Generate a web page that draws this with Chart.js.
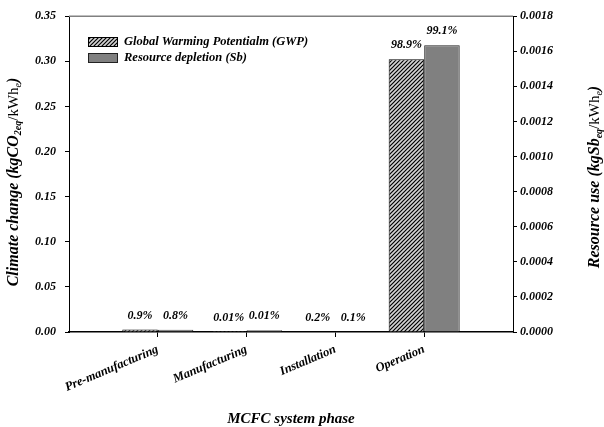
<!DOCTYPE html>
<html>
<head>
<meta charset="utf-8">
<script src="https://cdn.jsdelivr.net/npm/chart.js@4.4.1/dist/chart.umd.min.js"></script>
<style>
  html, body { margin: 0; padding: 0; background: #fff; }
  #wrap { width: 604px; height: 427px; }
</style>
</head>
<body>
<div id="wrap"><canvas id="c" width="604" height="427"></canvas></div>
<script>
// System phases (blank slots at both ends keep the phases evenly spread)
const phases = ['', 'Pre-manufacturing', 'Manufacturing', 'Installation', 'Operation', ''];
// Climate change, kgCO2eq/kWhe
const gwpValues = [null, 0.00275, 0.00003, 0.0006, 0.3023, null];
// Resource use, kgSbeq/kWhe
const sbValues = [null, 0.0000132, 0.00001, 0.0000016, 0.001634, null];
// Share of each phase in the total
const gwpShares = ['', '0.9%', '0.01%', '0.2%', '98.9%', ''];
const sbShares = ['', '0.8%', '0.01%', '0.1%', '99.1%', ''];
// Axis ticks
const leftTicks = [0, 0.05, 0.10, 0.15, 0.20, 0.25, 0.30, 0.35];
const rightTicks = [0, 0.0002, 0.0004, 0.0006, 0.0008, 0.0010, 0.0012, 0.0014, 0.0016, 0.0018];

const SERIF = '"Liberation Serif", "Times New Roman", serif';
const BI = (s) => 'italic bold ' + s + 'px ' + SERIF;

function hatch() {
  const p = document.createElement('canvas');
  p.width = 4; p.height = 4;
  const g = p.getContext('2d');
  g.fillStyle = '#d4d4d4';
  g.fillRect(0, 0, 4, 4);
  g.strokeStyle = '#000';
  g.lineWidth = 1.2;
  g.beginPath();
  g.moveTo(-1, 5); g.lineTo(5, -1);
  g.moveTo(-3, 3); g.lineTo(3, -3);
  g.moveTo(1, 7); g.lineTo(7, 1);
  g.stroke();
  return g.createPattern(p, 'repeat');
}
const hatchFill = hatch();

// Draw a run of text pieces (with subscripts) centred at (cx, cy)
function drawRuns(ctx, runs, cx, cy) {
  let total = 0;
  runs.forEach(r => { ctx.font = r.font; r.w = ctx.measureText(r.t).width; total += r.w; });
  let x = cx - total / 2;
  ctx.textBaseline = 'alphabetic';
  ctx.textAlign = 'left';
  runs.forEach(r => {
    ctx.font = r.font;
    ctx.fillText(r.t, x, cy + (r.dy || 0));
    x += r.w;
  });
}

const decorations = {
  id: 'decorations',
  afterDatasetsDraw(chart) {
    const ctx = chart.ctx;
    const area = chart.chartArea;
    ctx.save();
    // top frame line
    ctx.strokeStyle = '#808080';
    ctx.lineWidth = 1.5;
    ctx.beginPath();
    ctx.moveTo(area.left, area.top);
    ctx.lineTo(area.right, area.top);
    ctx.stroke();

    // share labels above each bar
    ctx.fillStyle = '#000';
    ctx.font = BI(12);
    ctx.textAlign = 'center';
    ctx.textBaseline = 'middle';
    [gwpShares, sbShares].forEach((labels, di) => {
      const meta = chart.getDatasetMeta(di);
      meta.data.forEach((el, i) => {
        if (!labels[i]) return;
        ctx.fillText(labels[i], el.x, el.y - 14);
      });
    });

    // legend inside the plot
    const lx = 88, sw = 29, sh = 9;
    const items = [
      { fill: hatchFill, stroke: '#000', y: 37 },
      { fill: '#808080', stroke: '#222', y: 53 }
    ];
    items.forEach((it, i) => {
      ctx.fillStyle = it.fill;
      ctx.fillRect(lx, it.y, sw, sh);
      ctx.strokeStyle = it.stroke;
      ctx.lineWidth = 1;
      ctx.strokeRect(lx + 0.5, it.y + 0.5, sw, sh);
      ctx.fillStyle = '#000';
      ctx.font = BI(12.5);
      ctx.textAlign = 'left';
      ctx.textBaseline = 'middle';
      ctx.fillText(chart.data.datasets[i].label, lx + 36, it.y + sh / 2 + 0.5);
    });

    // axis titles
    ctx.fillStyle = '#000';
    ctx.font = BI(15);
    ctx.textAlign = 'center';
    ctx.textBaseline = 'alphabetic';
    ctx.fillText('MCFC system phase', (area.left + area.right) / 2, 423);

    ctx.save();
    ctx.translate(18, 182);
    ctx.rotate(-Math.PI / 2);
    drawRuns(ctx, [
      { t: 'Climate change (kgCO', font: BI(16) },
      { t: '2eq', font: BI(10), dy: 3 },
      { t: '/kWh', font: '15px ' + SERIF },
      { t: 'e', font: 'italic 10px ' + SERIF, dy: 3 },
      { t: ')', font: BI(16) }
    ], 0, 0);
    ctx.restore();

    ctx.save();
    ctx.translate(599, 177);
    ctx.rotate(-Math.PI / 2);
    drawRuns(ctx, [
      { t: 'Resource use (kgSb', font: BI(16) },
      { t: 'eq', font: BI(10), dy: 3 },
      { t: '/kWh', font: '15px ' + SERIF },
      { t: 'e', font: 'italic 10px ' + SERIF, dy: 3 },
      { t: ')', font: BI(16) }
    ], 0, 0);
    ctx.restore();

    ctx.restore();
  }
};

new Chart(document.getElementById('c'), {
  type: 'bar',
  data: {
    labels: phases,
    datasets: [
      {
        label: 'Global Warming Potentialm (GWP)',
        data: gwpValues,
        yAxisID: 'y',
        backgroundColor: hatchFill,
        borderColor: '#000',
        borderWidth: 1,
        borderSkipped: 'bottom',
        categoryPercentage: 0.8,
        barPercentage: 1.0
      },
      {
        label: 'Resource depletion (Sb)',
        data: sbValues,
        yAxisID: 'y1',
        backgroundColor: '#808080',
        borderColor: '#222',
        borderWidth: 1,
        borderSkipped: 'bottom',
        categoryPercentage: 0.8,
        barPercentage: 1.0
      }
    ]
  },
  options: {
    responsive: false,
    animation: false,
    devicePixelRatio: 1,
    layout: { padding: { top: 14, left: 0, right: 0, bottom: 0 } },
    plugins: { legend: { display: false }, tooltip: { enabled: false } },
    scales: {
      x: {
        type: 'category',
        offset: false,
        grid: {
          offset: false,
          drawOnChartArea: false,
          drawTicks: true,
          tickLength: 5,
          tickColor: (c) => (c.index === 0 || c.index === phases.length - 1) ? 'rgba(0,0,0,0)' : '#000'
        },
        border: { display: true, color: '#000', width: 1.5 },
        ticks: {
          autoSkip: false,
          minRotation: 23,
          maxRotation: 23,
          padding: 5,
          color: '#000',
          font: { family: SERIF, style: 'italic', weight: 'bold', size: 12.5 }
        },
        afterFit: (s) => { s.height = 95; }
      },
      y: {
        position: 'left',
        min: 0,
        max: 0.35,
        afterBuildTicks: (s) => { s.ticks = leftTicks.map(v => ({ value: v })); },
        grid: { drawOnChartArea: false, drawTicks: true, tickLength: 4, tickColor: '#000' },
        border: { display: true, color: '#000', width: 1 },
        ticks: {
          padding: 9,
          color: '#000',
          font: { family: SERIF, style: 'italic', weight: 'bold', size: 12 },
          callback: (v) => Number(v).toFixed(2)
        },
        afterFit: (s) => { s.width = 69; }
      },
      y1: {
        position: 'right',
        min: 0,
        max: 0.0018,
        afterBuildTicks: (s) => { s.ticks = rightTicks.map(v => ({ value: v })); },
        grid: { drawOnChartArea: false, drawTicks: true, tickLength: 4, tickColor: '#000' },
        border: { display: true, color: '#000', width: 1 },
        ticks: {
          padding: 3,
          color: '#000',
          font: { family: SERIF, style: 'italic', weight: 'bold', size: 12 },
          callback: (v) => Number(v).toFixed(4)
        },
        afterFit: (s) => { s.width = 91; }
      }
    }
  },
  plugins: [decorations]
});
</script>
</body>
</html>
